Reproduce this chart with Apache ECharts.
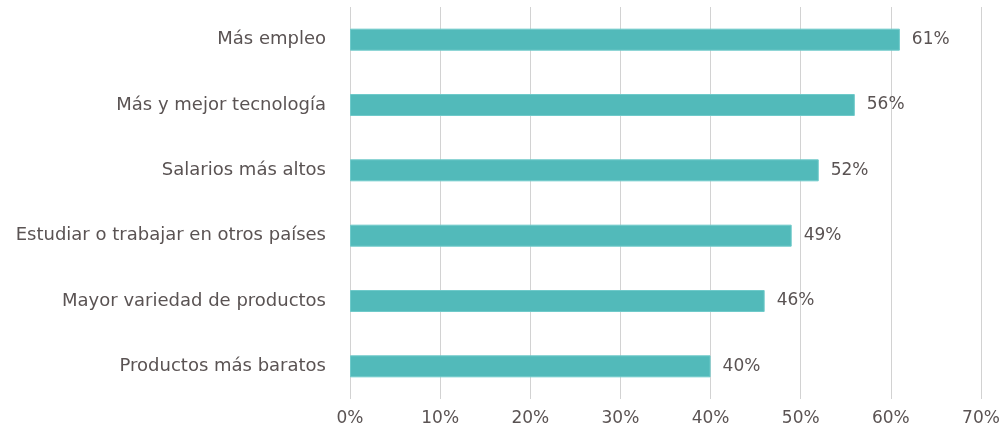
<!DOCTYPE html>
<html>
<head>
<meta charset="utf-8">
<script src="https://cdn.jsdelivr.net/npm/echarts@6/dist/echarts.min.js"></script>
<style>
  html, body { margin: 0; padding: 0; background: #fff; }
  #main { width: 1007px; height: 430px; }
</style>
</head>
<body>
<div id="main"></div>
<script>
// categorías, de arriba a abajo
var categories = [
  "Más empleo",
  "Más y mejor tecnología",
  "Salarios más altos",
  "Estudiar o trabajar en otros países",
  "Mayor variedad de productos",
  "Productos más baratos"
];
var values = [61, 56, 52, 49, 46, 40];
var xTicks = [0, 10, 20, 30, 40, 50, 60, 70];

var textColor = "#5a5353";
var font = "DejaVu Sans";

var chart = echarts.init(document.getElementById("main"));
chart.setOption({
  animation: false,
  grid: { left: 350, right: 26, top: 7, bottom: 31 },
  xAxis: {
    type: "value",
    min: xTicks[0],
    max: xTicks[xTicks.length - 1],
    interval: 10,
    axisLine: { show: false },
    axisTick: { show: false },
    splitLine: { show: true, lineStyle: { color: "#d2d2d2", width: 1 } },
    axisLabel: {
      color: textColor,
      fontFamily: font,
      fontSize: 17,
      margin: 11,
      formatter: "{value}%"
    }
  },
  yAxis: {
    type: "category",
    inverse: true,
    data: categories,
    axisLine: { show: false },
    axisTick: { show: false },
    axisLabel: {
      color: textColor,
      fontFamily: font,
      fontSize: 18,
      margin: 24
    }
  },
  series: [{
    type: "bar",
    data: values,
    barWidth: 22,
    itemStyle: { color: "#52baba", borderColor: "#6fcaca", borderWidth: 1 },
    label: {
      show: true,
      position: "right",
      distance: 12,
      color: textColor,
      fontFamily: font,
      fontSize: 17,
      formatter: "{c}%"
    }
  }]
});
</script>
</body>
</html>
